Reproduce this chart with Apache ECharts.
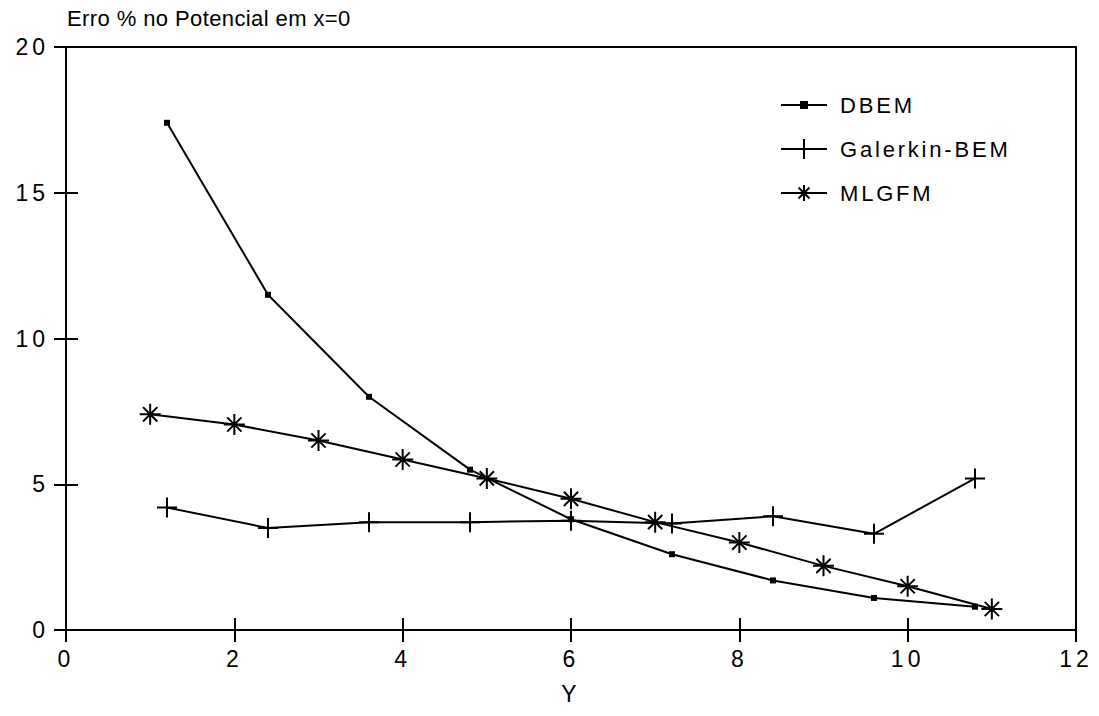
<!DOCTYPE html>
<html>
<head>
<meta charset="utf-8">
<script src="https://cdn.jsdelivr.net/npm/echarts@6/dist/echarts.min.js"></script>
<style>
  html, body { margin: 0; padding: 0; background: #fff; }
  #chart { width: 1099px; height: 716px; }
  /* plotter-style spaced lettering, keyed on the family list of each text group */
  #chart text[style*="titlefont"]  { letter-spacing: 0.4px; }
  #chart text[style*="tickfont"]   { letter-spacing: 4px; }
  #chart text[style*="legendfont"] { letter-spacing: 2.8px; }
</style>
</head>
<body>
<div id="chart"></div>
<script>
// Percentage error of the potential at x = 0, per method
const dbemY     = [1.2, 2.4, 3.6, 4.8, 6.0, 7.2, 8.4, 9.6, 10.8];
const dbemErr   = [17.4, 11.5, 8.0, 5.5, 3.8, 2.6, 1.7, 1.1, 0.8];

const galerkinY   = [1.2, 2.4, 3.6, 4.8, 6.0, 7.2, 8.4, 9.6, 10.8];
const galerkinErr = [4.2, 3.5, 3.7, 3.7, 3.75, 3.65, 3.9, 3.3, 5.2];

const mlgfmY   = [1, 2, 3, 4, 5, 6, 7, 8, 9, 10, 11];
const mlgfmErr = [7.4, 7.05, 6.5, 5.85, 5.2, 4.5, 3.7, 3.0, 2.2, 1.5, 0.72];

const seriesNames = ['DBEM', 'Galerkin-BEM', 'MLGFM'];
const titleText = 'Erro % no Potencial em x=0';
const xAxisName = 'Y';

const pairs = (xs, ys) => xs.map((x, i) => [x, ys[i]]);

const BASE = 'Liberation Sans, Arial, sans-serif';
const TITLE_FONT  = 'Liberation Sans, titlefont, sans-serif';
const TICK_FONT   = 'Liberation Sans, tickfont, sans-serif';
const LEGEND_FONT = 'Liberation Sans, legendfont, sans-serif';

// point markers
const plusPath = 'path://M5,0L5,10M0,5L10,5';
const starPath = 'path://M5,0L5,10M0,5L10,5M1.6,1.6L8.4,8.4M8.4,1.6L1.6,8.4';

// legend keys: a 46x20 line sample with the marker in the middle
// (the leading moves pin the bounding box so the key is not stretched)
const keyDot  = 'path://M0,0M46,20M0,10L46,10M20,7L26,7L26,13L20,13Z';
const keyPlus = 'path://M0,0M46,20M0,10L46,10M23,0L23,20';
const keyStar = 'path://M0,0M46,20M0,10L46,10M23,2L23,18M15,10L31,10M17.5,4.5L28.5,15.5M28.5,4.5L17.5,15.5';

const lineStyle = { color: '#000', width: 2 };
const tickStyle = { color: '#000', width: 2 };

const chart = echarts.init(document.getElementById('chart'), null, { renderer: 'svg' });

chart.setOption({
  animation: false,
  backgroundColor: '#fff',
  textStyle: { fontFamily: BASE, color: '#000' },
  title: {
    text: titleText,
    left: 62,
    top: 2,
    textStyle: { fontFamily: TITLE_FONT, fontSize: 22, fontWeight: 'normal', color: '#000' }
  },
  legend: {
    orient: 'vertical',
    left: 775,
    top: 89,
    itemWidth: 46,
    itemHeight: 20,
    itemGap: 22,
    textStyle: { fontFamily: LEGEND_FONT, fontSize: 22, color: '#000', padding: [0, 0, 0, 8] },
    data: [
      { name: seriesNames[0], icon: keyDot,
        itemStyle: { color: '#000', borderColor: '#000', borderWidth: 2 } },
      { name: seriesNames[1], icon: keyPlus,
        itemStyle: { color: 'rgba(0,0,0,0)', borderColor: '#000', borderWidth: 2 } },
      { name: seriesNames[2], icon: keyStar,
        itemStyle: { color: 'rgba(0,0,0,0)', borderColor: '#000', borderWidth: 2 } }
    ]
  },
  grid: {
    left: 66, right: 23, top: 47, bottom: 86,
    show: true,
    borderColor: '#000',
    borderWidth: 2,
    containLabel: false
  },
  xAxis: [
    {
      type: 'value', min: 0, max: 12, interval: 2,
      name: xAxisName, nameLocation: 'middle', nameGap: 52,
      nameTextStyle: { fontFamily: TICK_FONT, fontSize: 23, color: '#000' },
      axisLine: { show: true, lineStyle: { color: '#000', width: 2 } },
      axisTick: { show: true, length: 12, lineStyle: tickStyle },
      axisLabel: { fontFamily: TICK_FONT, fontSize: 23, color: '#000', margin: 17 },
      splitLine: { show: false }
    },
    {
      // inward half of the crossing ticks
      type: 'value', min: 0, max: 12, interval: 2, position: 'bottom',
      axisLine: { show: false },
      axisTick: { show: true, inside: true, length: 12, lineStyle: tickStyle },
      axisLabel: { show: false },
      splitLine: { show: false }
    }
  ],
  yAxis: [
    {
      type: 'value', min: 0, max: 20, interval: 5,
      axisLine: { show: true, lineStyle: { color: '#000', width: 2 } },
      axisTick: { show: true, length: 12, lineStyle: tickStyle },
      axisLabel: { fontFamily: TICK_FONT, fontSize: 23, color: '#000', margin: 17 },
      splitLine: { show: false }
    },
    {
      type: 'value', min: 0, max: 20, interval: 5, position: 'left',
      axisLine: { show: false },
      axisTick: { show: true, inside: true, length: 12, lineStyle: tickStyle },
      axisLabel: { show: false },
      splitLine: { show: false }
    }
  ],
  series: [
    {
      name: seriesNames[0], type: 'line',
      data: pairs(dbemY, dbemErr),
      symbol: 'rect', symbolSize: 6,
      itemStyle: { color: '#000' },
      lineStyle: lineStyle
    },
    {
      name: seriesNames[1], type: 'line',
      data: pairs(galerkinY, galerkinErr),
      symbol: plusPath, symbolSize: 20,
      itemStyle: { color: 'rgba(0,0,0,0)', borderColor: '#000', borderWidth: 2 },
      lineStyle: lineStyle
    },
    {
      name: seriesNames[2], type: 'line',
      data: pairs(mlgfmY, mlgfmErr),
      symbol: starPath, symbolSize: 21,
      itemStyle: { color: 'rgba(0,0,0,0)', borderColor: '#000', borderWidth: 2 },
      lineStyle: lineStyle
    }
  ]
});
</script>
</body>
</html>
